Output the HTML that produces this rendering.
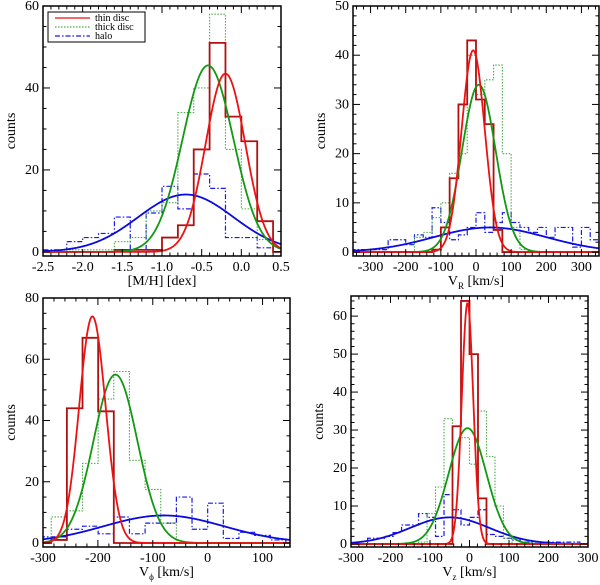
<!DOCTYPE html>
<html><head><meta charset="utf-8"><style>
html,body{margin:0;padding:0;background:#fff}
svg{display:block;font-family:"Liberation Serif",serif}
</style></head><body>
<svg id="c" width="600" height="585" viewBox="0 0 600 585" xmlns="http://www.w3.org/2000/svg"></svg>
<script>
// ---- Panel 1: [M/H]
const mhEdgeStart = -2.6, mhBinW = 0.2;
const mhThin  = [0,0,0,0,0,0.5,0.5,0.5,3.5,6.5,25,51,33,27,7.5,0];
const mhThick = [0,0,0.5,0.5,0.5,2.5,3.5,10,12,34,40,58,25,10.5,3,0];
const mhHalo  = [0.5,0.5,2.5,3.5,4.5,8.5,0.5,9.5,16,10.5,19,15.5,3.5,3.5,1,0];
const mhFitThin = [43.5,-0.2,0.25], mhFitThick=[45.5,-0.42,0.32], mhFitHalo=[14,-0.7,0.6];
const mhXTicks=[-2.5,-2.0,-1.5,-1.0,-0.5,0.0,0.5], mhXLabels=["-2.5","-2.0","-1.5","-1.0","-0.5","0.0","0.5"];
const mhYTicks=[0,20,40,60];
// ---- Panel 2: V_R
const vrEdgeStart=-350, vrBinW=25;
const vrThin =[0,0,0,0,0,0,0,0,0,0.5,5,15,30,43,31,26,4.5,0,0,0,0,0,0,0,0,0,0,0];
const vrThick=[0,0,0,0,0,0,0,3,4,7,10,16,20,40,32,35,38,20,5,0.5,0,0,0,0,0,0,0,0];
const vrHalo =[0.5,0.5,0.5,0.5,2.5,2.5,1.5,3.5,3,9,6,2.5,3.5,5,8,4,6,8,6,5,4,5,3,5,5,1,5,2.5];
const vrFitThin=[41,-8,33], vrFitThick=[34,8,48], vrFitHalo=[5,40,160];
const vrXTicks=[-300,-200,-100,0,100,200,300];
const vrYTicks=[0,10,20,30,40,50];
// ---- Panel 3: V_phi
const vpEdgeStart=-313.5, vpBinW=28.5;
const vpThin =[0,1,44,67,43,0,0,0,0,0,0,0,0,0,0,0];
const vpThick=[0,8.5,10.5,26,47,56,27,17.5,6.5,0,0,0,0,0,0,0];
const vpHalo =[2,2,4.5,5.5,3,8.5,3,6.5,6.5,15,4.5,13,1.5,3.5,2.5,1];
const vpFitThin=[74,-210,24], vpFitThick=[55,-168,40], vpFitHalo=[9,-80,110];
const vpXTicks=[-300,-200,-100,0,100];
const vpYTicks=[0,20,40,60,80];
// ---- Panel 4: V_z
const vzEdgeStart=-301, vzBinW=21.5;
const vzThin =[0,0,0,0,0,0,0,0,0,0,0,0,31,64,50,12,0,0,0,0,0,0,0,0,0,0,0,0];
const vzThick=[0,0,0,0,0,0,0,0,0.5,8,15,33,31,28,21,35,23,10,1.5,0,0,0,0,0,0,0,0,0];
const vzHalo =[0,0,1.5,1.5,2,3,5,5,8,7,2,13,9,5,7,9,2.5,2,1.5,1,0.5,0.5,0.5,0.5,0.5,0.5,0.5,0];
const vzFitThin=[63.5,-5,14.5], vzFitThick=[30.5,-5,48], vzFitHalo=[7,-50,100];
const vzXTicks=[-300,-200,-100,0,100,200,300];
const vzYTicks=[0,10,20,30,40,50,60];

const NS="http://www.w3.org/2000/svg";
const svg=document.getElementById('c');
function el(t,a,p){const e=document.createElementNS(NS,t);for(const k in a)e.setAttribute(k,a[k]);(p||svg).appendChild(e);return e;}

function panel(cfg){
  const g=el('g',{});
  
  
  const {x0,x1,y0,y1,xmin,xmax,ymin,ymax}=cfg;
  const sx=v=>x0+(v-xmin)/(xmax-xmin)*(x1-x0);
  const sy=v=>y1-(v-ymin)/(ymax-ymin)*(y1-y0);
  const clip='clip-'+cfg.name;
  const cp=el('clipPath',{id:clip},g);el('rect',{x:x0,y:y0,width:x1-x0,height:y1-y0},cp);
  const dg=el('g',{'clip-path':'url(#'+clip+')'},g);
  function hist(vals,start,w,stroke,dash,width,nm){
    let d='M'+sx(start)+','+sy(0);
    vals.forEach((v,i)=>{d+=' L'+sx(start+i*w)+','+sy(v)+' L'+sx(start+(i+1)*w)+','+sy(v);});
    d+=' L'+sx(start+vals.length*w)+','+sy(0);
    const p=el('path',{d:d,fill:'none',stroke:stroke,'stroke-width':width},dg);
    if(dash)p.setAttribute('stroke-dasharray',dash);
    
    
  }
  function gauss(f,stroke,nm){
    let d='';
    for(let i=0;i<=300;i++){const v=xmin+(xmax-xmin)*i/300;const y=f[0]*Math.exp(-Math.pow(v-f[1],2)/(2*f[2]*f[2]));d+=(i?' L':'M')+sx(v).toFixed(2)+','+sy(y).toFixed(2);}
    const p=el('path',{d:d,fill:'none',stroke:stroke,'stroke-width':1.8},dg);
    
    
  }
  hist(cfg.halo,cfg.es,cfg.bw,'#1a1ae6','5,2,1.5,2',1.2,'halo-histogram');
  hist(cfg.thick,cfg.es,cfg.bw,'#4aaa4a','1.5,1.5',1.1,'thick-disc-histogram');
  hist(cfg.thin,cfg.es,cfg.bw,'#b01010',null,1.8,'thin-disc-histogram');
  gauss(cfg.fh,'#0a0ae0','halo-fit');
  gauss(cfg.fk,'#119911','thick-disc-fit');
  gauss(cfg.ft,'#ee1111','thin-disc-fit');
  el('rect',{x:x0,y:y0,width:x1-x0,height:y1-y0,fill:'none',stroke:'#000','stroke-width':1.5},g);
  for(let v=Math.ceil(xmin/cfg.xm-1e-9)*cfg.xm;v<=xmax+1e-9;v+=cfg.xm){
    const maj=cfg.xt.some(t=>Math.abs(t-v)<1e-6);const L=maj?7:3.5;const X=sx(v);
    el('line',{x1:X,x2:X,y1:y1,y2:y1-L,stroke:'#000','stroke-width':1},g);
    el('line',{x1:X,x2:X,y1:y0,y2:y0+L,stroke:'#000','stroke-width':1},g);
  }
  for(let v=Math.ceil(ymin/cfg.ym-1e-9)*cfg.ym;v<=ymax+1e-9;v+=cfg.ym){
    const maj=cfg.yt.some(t=>Math.abs(t-v)<1e-6);const L=maj?7:3.5;const Y=sy(v);
    el('line',{x1:x0,x2:x0+L,y1:Y,y2:Y,stroke:'#000','stroke-width':1},g);
    el('line',{x1:x1,x2:x1-L,y1:Y,y2:Y,stroke:'#000','stroke-width':1},g);
  }
  cfg.xt.forEach((t,i)=>{const tx=el('text',{x:sx(t),y:y1+15,'text-anchor':'middle','font-size':14},g);tx.textContent=cfg.xl?cfg.xl[i]:String(t);
    });
  cfg.yt.forEach(t=>{const tx=el('text',{x:x0-4,y:sy(t)+4,'text-anchor':'end','font-size':14},g);tx.textContent=String(t);
    });
  const yl=el('text',{x:0,y:0,'text-anchor':'middle','font-size':14,transform:'translate('+(x0-28)+','+((y0+y1)/2)+') rotate(-90)'},g);
  yl.textContent='counts';
  const xl=el('text',{x:(x0+x1)/2,y:y1+29,'text-anchor':'middle','font-size':14},g);
  xl.innerHTML=cfg.title;
}

panel({name:'panel-metallicity',x0:43,x1:281,y0:6,y1:256,xmin:-2.5,xmax:0.5,ymin:-1,ymax:60,xm:0.1,ym:5,
  xt:mhXTicks,xl:mhXLabels,yt:mhYTicks,es:mhEdgeStart,bw:mhBinW,thin:mhThin,thick:mhThick,halo:mhHalo,
  ft:mhFitThin,fk:mhFitThick,fh:mhFitHalo,title:'[M/H] [dex]'});
panel({name:'panel-vr',x0:353,x1:599,y0:6,y1:256,xmin:-350,xmax:350,ymin:-0.8,ymax:50,xm:20,ym:2,
  xt:vrXTicks,yt:vrYTicks,es:vrEdgeStart,bw:vrBinW,thin:vrThin,thick:vrThick,halo:vrHalo,
  ft:vrFitThin,fk:vrFitThick,fh:vrFitHalo,title:'V<tspan font-size="9" dy="4">R</tspan><tspan dy="-4"> [km/s]</tspan>'});
panel({name:'panel-vphi',x0:43,x1:290,y0:298,y1:547,xmin:-300,xmax:150,ymin:-1.3,ymax:80,xm:20,ym:5,
  xt:vpXTicks,yt:vpYTicks,es:vpEdgeStart,bw:vpBinW,thin:vpThin,thick:vpThick,halo:vpHalo,
  ft:vpFitThin,fk:vpFitThick,fh:vpFitHalo,title:'V<tspan font-size="9" dy="4">ϕ</tspan><tspan dy="-4"> [km/s]</tspan>'});
panel({name:'panel-vz',x0:351,x1:588,y0:296,y1:547,xmin:-300,xmax:300,ymin:-0.8,ymax:65.3,xm:20,ym:2,
  xt:vzXTicks,yt:vzYTicks,es:vzEdgeStart,bw:vzBinW,thin:vzThin,thick:vzThick,halo:vzHalo,
  ft:vzFitThin,fk:vzFitThick,fh:vzFitHalo,title:'V<tspan font-size="9" dy="4">z</tspan><tspan dy="-4"> [km/s]</tspan>'});

const lg=el('g',{});


el('rect',{x:48,y:12,width:97,height:30,fill:'#fff',stroke:'#000','stroke-width':1},lg);
const items=[['thin disc','#ee1111',null],['thick disc','#4aaa4a','1.5,1.5'],['halo','#1a1ae6','5,2,1.5,2']];
items.forEach((it,i)=>{
  const y=18+i*9;
  const ln=el('line',{x1:55,x2:90,y1:y,y2:y,stroke:it[1],'stroke-width':1.2},lg);
  if(it[2])ln.setAttribute('stroke-dasharray',it[2]);
  const t=el('text',{x:95,y:y+3,'font-size':10},lg);t.textContent=it[0];
  
  
});
</script>
</body></html>
